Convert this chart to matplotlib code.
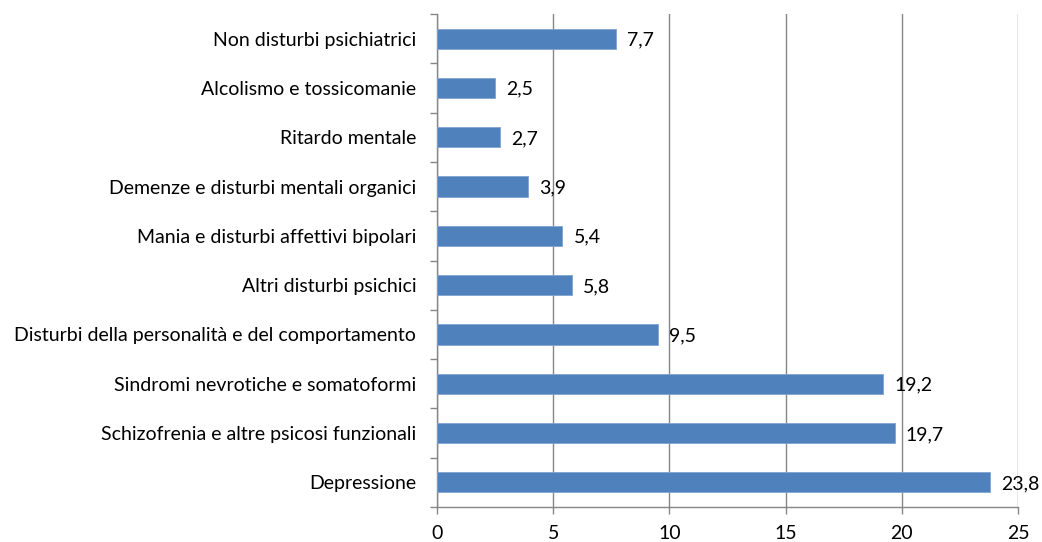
import matplotlib
matplotlib.use("Agg")
import matplotlib.pyplot as plt
import numpy as np

categories = ["Depressione",
              "Schizofrenia e altre psicosi funzionali",
              "Sindromi nevrotiche e somatoformi",
              "Disturbi della personalità e del comportamento",
              "Altri disturbi psichici",
              "Mania e disturbi affettivi bipolari",
              "Demenze e disturbi mentali organici",
              "Ritardo mentale",
              "Alcolismo e tossicomanie",
              "Non disturbi psichiatrici"]
values = [23.8, 19.7, 19.2, 9.5, 5.8, 5.4, 3.9, 2.7, 2.5, 7.7]
value_labels = ["23,8", "19,7", "19,2", "9,5", "5,8", "5,4", "3,9", "2,7", "2,5", "7,7"]
xticks = [0, 5, 10, 15, 20, 25]

plt.rcParams['font.family'] = ['Lato', 'DejaVu Sans']
FS = 14

fig = plt.figure(figsize=(10.42, 5.42), dpi=100)
ax = fig.add_axes([437/1042, 35/542, (1018-437)/1042, (507-14)/542])

y = np.arange(len(categories))
ax.barh(y, values, height=0.41, color="#4F81BD", edgecolor="#7fa3d0", linewidth=0.6, zorder=3)

for yi, v, lab in zip(y, values, value_labels):
    ax.annotate(lab, xy=(v, yi), xytext=(8, -1), textcoords="offset points",
                ha="left", va="center", fontsize=FS, color="black", zorder=4)

ax.set_xlim(0, 25)
ax.set_ylim(-0.5, len(categories) - 0.5)
ax.set_xticks(xticks)
ax.set_xticklabels([str(t) for t in xticks], fontsize=FS)
ax.set_yticks(y)
ax.set_yticklabels(categories, fontsize=FS)
ax.tick_params(axis="y", length=0, pad=15)
ax.set_yticks(np.arange(-0.5, len(categories), 1.0), minor=True)
ax.tick_params(axis="y", which="minor", length=5, color="#868686", width=1)
ax.tick_params(axis="x", length=5, color="#868686", width=1, pad=8)

ax.grid(axis="x", color="#868686", linewidth=1, zorder=0)
for s in ["top", "right"]:
    ax.spines[s].set_visible(False)
for s in ["left", "bottom"]:
    ax.spines[s].set_color("#868686")
    ax.spines[s].set_linewidth(1)

fig.savefig("out.png", dpi=100)
